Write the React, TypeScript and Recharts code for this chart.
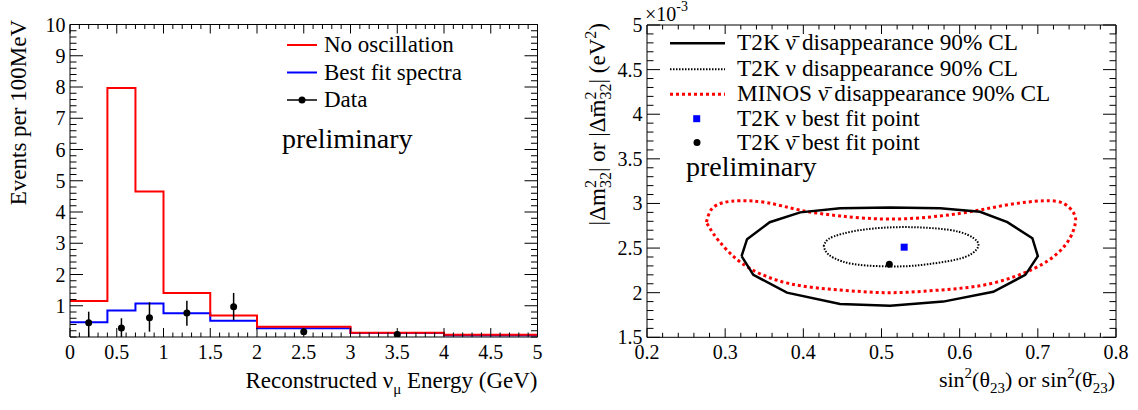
import React from "react";
import { ComposedChart, Line, Scatter, XAxis, YAxis, ErrorBar } from "recharts";

const FONT = "'Liberation Serif', 'Times New Roman', serif";

// ---- left panel: reconstructed energy spectrum ----
const binEdges = [0, 0.4, 0.7, 1.0, 1.5, 2.0, 3.0, 4.0, 5.0];
const noOscillation = [1.15, 7.97, 4.66, 1.41, 0.69, 0.33, 0.14, 0.07];
const bestFitSpectra = [0.47, 0.85, 1.07, 0.76, 0.52, 0.28, 0.13, 0.06];
const dataEnergy = [0.2, 0.55, 0.85, 1.25, 1.75, 2.5, 3.5];
const dataEvents = [0.46, 0.29, 0.62, 0.77, 0.97, 0.17, 0.08];
const dataErrLow = [0.46, 0.29, 0.45, 0.41, 0.43, 0.1, 0.06];
const dataErrHigh = [0.35, 0.31, 0.49, 0.39, 0.44, 0.1, 0.06];

const leftXLabels = [0, 0.5, 1, 1.5, 2, 2.5, 3, 3.5, 4, 4.5, 5];
const leftYLabels = [1, 2, 3, 4, 5, 6, 7, 8, 9, 10];

// ---- right panel: 90% CL contours (x = sin^2 theta23, y = dm2 in 1e-3 eV^2) ----
const t2kAntiX = [0.321, 0.328, 0.357, 0.396, 0.447, 0.511, 0.575, 0.626, 0.661, 0.693, 0.700, 0.684, 0.643, 0.579, 0.511, 0.447, 0.379, 0.336, 0.321];
const t2kAntiY = [2.41, 2.60, 2.79, 2.90, 2.945, 2.956, 2.945, 2.906, 2.79, 2.61, 2.41, 2.20, 2.01, 1.90, 1.854, 1.873, 2.0, 2.20, 2.41];

const t2kNuX = [0.426, 0.432, 0.450, 0.480, 0.525, 0.570, 0.600, 0.618, 0.624, 0.616, 0.595, 0.560, 0.525, 0.480, 0.450, 0.432, 0.426];
const t2kNuY = [2.52, 2.60, 2.66, 2.71, 2.735, 2.72, 2.68, 2.61, 2.53, 2.44, 2.37, 2.32, 2.295, 2.305, 2.35, 2.43, 2.52];

const minosX = [0.276, 0.283, 0.298, 0.319, 0.353, 0.396, 0.447, 0.511, 0.575, 0.622, 0.665, 0.707, 0.733, 0.746, 0.748, 0.741, 0.725, 0.695, 0.639, 0.575, 0.511, 0.447, 0.383, 0.332, 0.302, 0.285, 0.276];
const minosY = [2.79, 2.94, 3.01, 3.03, 3.01, 2.925, 2.86, 2.825, 2.86, 2.92, 2.99, 3.03, 3.0, 2.89, 2.78, 2.61, 2.44, 2.27, 2.10, 2.03, 2.0, 2.03, 2.10, 2.27, 2.48, 2.66, 2.79];

const nuBestFit = [{ x: 0.529, y: 2.51 }];
const antiBestFit = [{ x: 0.51, y: 2.32 }];

const rightXLabels = [0.2, 0.3, 0.4, 0.5, 0.6, 0.7, 0.8];
const rightYLabels = [1.5, 2, 2.5, 3, 3.5, 4, 4.5, 5];

function range(a: number, b: number, step: number) {
  const out: number[] = [];
  const n = Math.round((b - a) / step);
  for (let i = 0; i <= n; i++) out.push(+(a + i * step).toFixed(4));
  return out;
}

function stepRows(edges: number[], vals: number[]) {
  const rows = vals.map((v, i) => ({ x: edges[i], y: v }));
  rows.push({ x: edges[edges.length - 1], y: vals[vals.length - 1] });
  return rows;
}

const zipXY = (xs: number[], ys: number[]) => xs.map((x, i) => ({ x, y: ys[i] }));

const redHist = stepRows(binEdges, noOscillation);
const blueHist = stepRows(binEdges, bestFitSpectra);
const dataPoints = dataEnergy.map((x, i) => ({
  x,
  y: dataEvents[i],
  err: [dataErrLow[i], dataErrHigh[i]],
}));

type Side = "bottom" | "top" | "left" | "right";

function makeTick(side: Side, majors: number[], labels: boolean, majorLen: number) {
  return (props: any) => {
    const { x, y, payload } = props;
    const v = payload.value as number;
    const isMajor = majors.some((m) => Math.abs(m - v) < 1e-6);
    const len = isMajor ? majorLen : majorLen / 2;
    let line;
    if (side === "bottom") line = <line x1={x} x2={x} y1={y} y2={y - len} />;
    else if (side === "top") line = <line x1={x} x2={x} y1={y} y2={y + len} />;
    else if (side === "left") line = <line x1={x} x2={x + len} y1={y} y2={y} />;
    else line = <line x1={x} x2={x - len} y1={y} y2={y} />;
    let text = null;
    if (labels && isMajor) {
      if (side === "bottom")
        text = (
          <text x={x} y={y + 21.5} textAnchor="middle" fontSize={20} fontFamily={FONT} fill="#000" stroke="none">
            {String(v)}
          </text>
        );
      if (side === "left")
        text = (
          <text x={x - 4.5} y={y} dy="0.35em" textAnchor="end" fontSize={20} fontFamily={FONT} fill="#000" stroke="none">
            {String(v)}
          </text>
        );
    }
    return (
      <g stroke="#000" strokeWidth={1}>
        {line}
        {text}
      </g>
    );
  };
}

const axisCommon = { axisLine: { stroke: "#000", strokeWidth: 1 }, tickLine: false, tickSize: 0, tickMargin: 0, interval: 0 as const };

function LeftPanel() {
  const xt = range(0, 5, 0.1);
  const yt = range(0, 10, 0.2);
  return (
    <ComposedChart width={560} height={410} margin={{ top: 14.5, right: 12.5, bottom: 33, left: 20 }}>
      <XAxis xAxisId={0} dataKey="x" type="number" domain={[0, 5]} allowDataOverflow ticks={xt} height={40} tick={makeTick("bottom", leftXLabels, true, 9)} {...axisCommon} />
      <XAxis xAxisId="top" orientation="top" dataKey="x" type="number" domain={[0, 5]} allowDataOverflow ticks={xt} height={10} tick={makeTick("top", leftXLabels, false, 9)} {...axisCommon} />
      <YAxis yAxisId={0} type="number" domain={[0, 10]} allowDataOverflow ticks={yt} width={50} tick={makeTick("left", leftYLabels, true, 13)} {...axisCommon} />
      <YAxis yAxisId="right" orientation="right" type="number" domain={[0, 10]} allowDataOverflow ticks={yt} width={10} tick={makeTick("right", leftYLabels, false, 13)} {...axisCommon} />
      <Line data={blueHist} dataKey="y" type="stepAfter" stroke="#0000ff" strokeWidth={2} dot={false} isAnimationActive={false} />
      <Line data={redHist} dataKey="y" type="stepAfter" stroke="#ff0000" strokeWidth={2} dot={false} isAnimationActive={false} />
      <Scatter
        data={dataPoints}
        dataKey="y"
        isAnimationActive={false}
        shape={(p: any) => <circle cx={p.cx} cy={p.cy} r={3.5} fill="#000" />}
      >
        <ErrorBar dataKey="err" direction="y" width={0} stroke="#000" strokeWidth={1.5} />
      </Scatter>
    </ComposedChart>
  );
}

function RightPanel() {
  const xt = range(0.2, 0.8, 0.02);
  const yt = range(1.5, 5, 0.1);
  return (
    <ComposedChart width={578} height={410} margin={{ top: 15, right: 12, bottom: 32.7, left: 37 }}>
      <XAxis xAxisId={0} dataKey="x" type="number" domain={[0.2, 0.8]} allowDataOverflow ticks={xt} height={40} tick={makeTick("bottom", rightXLabels, true, 9)} {...axisCommon} />
      <XAxis xAxisId="top" orientation="top" dataKey="x" type="number" domain={[0.2, 0.8]} allowDataOverflow ticks={xt} height={10} tick={makeTick("top", rightXLabels, false, 9)} {...axisCommon} />
      <YAxis yAxisId={0} type="number" domain={[1.5, 5]} allowDataOverflow ticks={yt} width={50} tick={makeTick("left", rightYLabels, true, 13)} {...axisCommon} />
      <YAxis yAxisId="right" orientation="right" type="number" domain={[1.5, 5]} allowDataOverflow ticks={yt} width={10} tick={makeTick("right", rightYLabels, false, 13)} {...axisCommon} />
      <Line data={zipXY(minosX, minosY)} dataKey="y" type="natural" stroke="#ff0000" strokeWidth={3} strokeDasharray="3 3" dot={false} isAnimationActive={false} />
      <Line data={zipXY(t2kAntiX, t2kAntiY)} dataKey="y" type="linear" stroke="#000" strokeWidth={2.5} dot={false} isAnimationActive={false} />
      <Line data={zipXY(t2kNuX, t2kNuY)} dataKey="y" type="natural" stroke="#000" strokeWidth={2} strokeDasharray="1.5 1.5" dot={false} isAnimationActive={false} />
      <Scatter data={nuBestFit} dataKey="y" isAnimationActive={false} shape={(p: any) => <rect x={p.cx - 3.5} y={p.cy - 3.5} width={7} height={7} fill="#0000ff" />} />
      <Scatter data={antiBestFit} dataKey="y" isAnimationActive={false} shape={(p: any) => <circle cx={p.cx} cy={p.cy} r={3.5} fill="#000" />} />
    </ComposedChart>
  );
}

function Overlay() {
  const t = { fontFamily: FONT, fill: "#000" };
  return (
    <svg width={1138} height={410} style={{ position: "absolute", left: 0, top: 0, pointerEvents: "none" }}>
      {/* left legend */}
      <line x1={287} x2={317} y1={45} y2={45} stroke="#ff0000" strokeWidth={2} />
      <text x={324} y={52.3} fontSize={23} {...t}>No oscillation</text>
      <line x1={287} x2={317} y1={72.5} y2={72.5} stroke="#0000ff" strokeWidth={2} />
      <text x={324} y={80} fontSize={23} {...t}>Best fit spectra</text>
      <line x1={287} x2={317} y1={100} y2={100} stroke="#000" strokeWidth={1.5} />
      <circle cx={302} cy={100} r={3.5} fill="#000" />
      <text x={324} y={107.3} fontSize={23} {...t}>Data</text>
      <text x={282} y={147.7} fontSize={28} {...t}>preliminary</text>

      {/* left axis titles */}
      <text x={26} y={20} transform="rotate(-90 26 20)" textAnchor="end" fontSize={23} {...t}>Events per 100MeV</text>
      <text x={537.5} y={388.3} textAnchor="end" fontSize={23} {...t}>
        Reconstructed ν<tspan dy={6} fontSize={15}>μ</tspan>
        <tspan dy={-6}> Energy (GeV)</tspan>
      </text>

      {/* right legend */}
      <line x1={670} x2={725} y1={43.3} y2={43.3} stroke="#000" strokeWidth={2.5} />
      <text x={737} y={50} fontSize={23.3} {...t}>T2K ν̄ disappearance 90% CL</text>
      <line x1={670} x2={725} y1={69.3} y2={69.3} stroke="#000" strokeWidth={2} strokeDasharray="1.5 1.5" />
      <text x={737} y={76} fontSize={23.3} {...t}>T2K ν disappearance 90% CL</text>
      <line x1={670} x2={725} y1={94.3} y2={94.3} stroke="#ff0000" strokeWidth={3} strokeDasharray="3 3" />
      <text x={737} y={101.2} fontSize={23.3} {...t}>MINOS ν̄ disappearance 90% CL</text>
      <rect x={693.2} y={115.2} width={7} height={7} fill="#0000ff" />
      <text x={737} y={125.8} fontSize={23.3} {...t}>T2K ν best fit point</text>
      <circle cx={697} cy={142.5} r={3.5} fill="#000" />
      <text x={737} y={149.7} fontSize={23.3} {...t}>T2K ν̄ best fit point</text>
      <text x={686} y={176} fontSize={28} {...t}>preliminary</text>

      {/* right axis decorations */}
      <text x={645} y={21} fontSize={20} {...t}>
        ×10<tspan dy={-10} fontSize={14}>-3</tspan>
      </text>
      <text x={605} y={23} transform="rotate(-90 605 23)" textAnchor="end" fontSize={23} {...t}>
        |Δm<tspan dy={-9} fontSize={16}>2</tspan>
        <tspan dx={-8} dy={15} fontSize={16}>32</tspan>
        <tspan dy={-6}>| or |Δm̄</tspan>
        <tspan dy={-9} fontSize={16}>2</tspan>
        <tspan dx={-8} dy={15} fontSize={16}>32</tspan>
        <tspan dy={-6}>| (eV</tspan>
        <tspan dy={-9} fontSize={16}>2</tspan>
        <tspan dy={9}>)</tspan>
      </text>
      <text x={1115} y={387.3} textAnchor="end" fontSize={22} {...t}>
        sin<tspan dy={-9} fontSize={15}>2</tspan>
        <tspan dy={9}>(θ</tspan>
        <tspan dy={6} fontSize={15}>23</tspan>
        <tspan dy={-6}>) or sin</tspan>
        <tspan dy={-9} fontSize={15}>2</tspan>
        <tspan dy={9}>(θ̄</tspan>
        <tspan dy={6} fontSize={15}>23</tspan>
        <tspan dy={-6}>)</tspan>
      </text>
    </svg>
  );
}

export default function App() {
  return (
    <div style={{ position: "absolute", left: 0, top: 0, width: 1138, height: 410, background: "#fff", fontFamily: FONT }}>
      <div style={{ position: "absolute", left: 0, top: 0 }}>
        <LeftPanel />
      </div>
      <div style={{ position: "absolute", left: 560, top: 0 }}>
        <RightPanel />
      </div>
      <Overlay />
    </div>
  );
}
